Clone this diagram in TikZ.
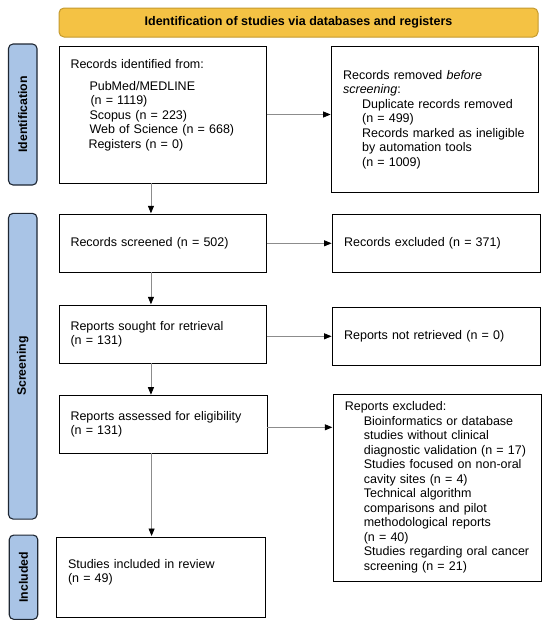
\documentclass[tikz,border=0pt]{standalone}
\usepackage{fontspec}
\setmainfont{Liberation Sans}
\usetikzlibrary{arrows.meta}
\definecolor{bannerfill}{HTML}{F4C244}
\definecolor{bannerdraw}{HTML}{C49A2E}
\definecolor{sidefill}{HTML}{A9C4E6}
\definecolor{sidedraw}{HTML}{1E2733}
\definecolor{arrgray}{HTML}{8C8C8C}
\begin{document}
\begin{tikzpicture}[x=1pt,y=-1pt,
  font=\fontsize{12.5}{14.5}\selectfont,
  box/.style={draw=black, line width=0.9pt, inner xsep=11.5pt, inner ysep=0pt,
    align=left, anchor=center, outer sep=0pt},
  banner/.style={draw=bannerdraw, fill=bannerfill, line width=1pt, rounded corners=5pt,
    inner sep=0pt, outer sep=0pt, font=\fontsize{12.5}{14.5}\selectfont\bfseries},
  side/.style={draw=sidedraw, fill=sidefill, line width=1.1pt, rounded corners=4.5pt,
    inner sep=0pt, outer sep=0pt, rotate=90, font=\fontsize{12.3}{14}\selectfont\bfseries},
  arr/.style={draw=arrgray, line width=0.8pt, -{Triangle[length=7.5pt,width=6pt,black]}, shorten >=1pt}
]
\useasboundingbox (0,0) rectangle (550,629);

% banner
\node[banner, minimum width=479pt, minimum height=29pt] (ban) at (298.5,22.5)
  {Identification of studies via databases and registers};

% side labels
\node[side, minimum width=141pt, minimum height=28.5pt] (sid) at (22.75,114.5) {Identification};
\node[side, minimum width=305.7pt, minimum height=28.5pt] (sscr) at (22.75,366.2) {Screening};
\node[side, minimum width=84.3pt, minimum height=28.5pt] (sinc) at (23.5,577.2) {Included};

% boxes
\node[box, minimum width=207.7pt, minimum height=137pt, text width=184.7pt] (b1) at (162.85,114.5)
  {Records identified from:\\[7pt]
   \hspace*{19pt}PubMed/MEDLINE\\
   \hspace*{20pt}(n = 1119)\\
   \hspace*{19pt}Scopus (n = 223)\\
   \hspace*{19pt}Web of Science (n = 668)\\
   \hspace*{18pt}Registers (n = 0)\\[7pt]
   \mbox{}};

\node[box, minimum width=207pt, minimum height=146pt, text width=184pt] (b2) at (435.1,119.7)
  {Records removed \textit{before}\\
   \textit{screening}:\\
   \hspace*{19pt}Duplicate records removed\\
   \hspace*{19pt}(n = 499)\\
   \hspace*{19pt}Records marked as ineligible\\
   \hspace*{19pt}by automation tools\\
   \hspace*{19pt}(n = 1009)};

\node[box, minimum width=207.7pt, minimum height=58pt, text width=184.7pt] (sc) at (162.85,243.3)
  {Records screened (n = 502)};
\node[box, minimum width=207.4pt, minimum height=58pt, text width=184.4pt] (ex) at (436.3,243.3)
  {Records excluded (n = 371)};

\node[box, minimum width=207.7pt, minimum height=58pt, text width=184.7pt] (so) at (162.85,334.3)
  {Reports sought for retrieval\\(n = 131)};
\node[box, minimum width=207.4pt, minimum height=58pt, text width=184.4pt] (nr) at (436.3,336.3)
  {Reports not retrieved (n = 0)};

\node[box, minimum width=208.4pt, minimum height=57.6pt, text width=185.4pt] (as) at (163.2,424.5)
  {Reports assessed for eligibility\\(n = 131)};
\node[box, minimum width=208.1pt, minimum height=187pt, text width=185.1pt] (rx) at (437.35,487.5)
  {Reports excluded:\\
   \hspace*{19pt}Bioinformatics or database\\
   \hspace*{19pt}studies without clinical\\
   \hspace*{19pt}diagnostic validation (n = 17)\\
   \hspace*{19pt}Studies focused on non-oral\\
   \hspace*{19pt}cavity sites (n = 4)\\
   \hspace*{19pt}Technical algorithm\\
   \hspace*{19pt}comparisons and pilot\\
   \hspace*{19pt}methodological reports\\
   \hspace*{19pt}(n = 40)\\
   \hspace*{19pt}Studies regarding oral cancer\\
   \hspace*{19pt}screening (n = 21)};

\node[box, minimum width=208.5pt, minimum height=80pt, text width=185.5pt] (inc) at (160.75,577)
  {Studies included in review\\(n = 49)\\[-2pt]\mbox{}};

% connectors
\draw[arr] (b1.east) -- (b1.east -| b2.west);
\draw[arr] ([xshift=-11.9pt]b1.south) -- ([xshift=-11.9pt]b1.south |- sc.north);
\draw[arr] (sc.east) -- (sc.east -| ex.west);
\draw[arr] ([xshift=-11.9pt]sc.south) -- ([xshift=-11.9pt]sc.south |- so.north);
\draw[arr] (so.east |- nr.west) -- (nr.west);
\draw[arr] ([xshift=-11.9pt]so.south) -- ([xshift=-11.9pt]so.south |- as.north);
\draw[arr] ([yshift=-2.8pt]as.east) -- ([yshift=-2.8pt]as.east -| rx.west);
\draw[arr] ([xshift=-11.6pt]as.south) -- ([xshift=-11.6pt]as.south |- inc.north);
\end{tikzpicture}
\end{document}
